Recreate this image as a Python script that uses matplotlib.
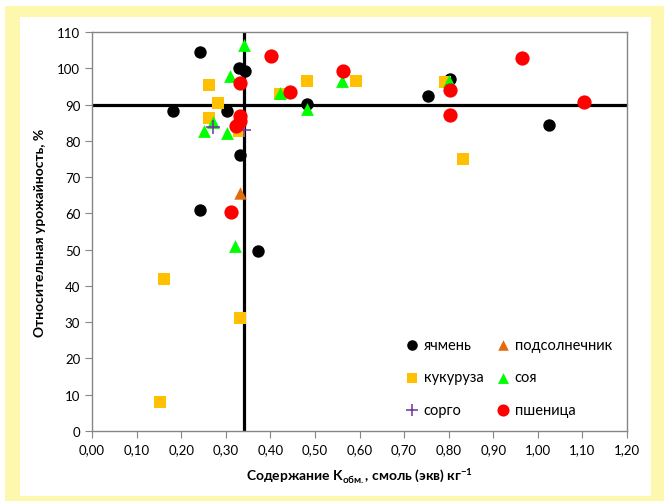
import matplotlib
matplotlib.use('agg')
import matplotlib.pyplot as plt
from matplotlib.patches import Rectangle

plt.rcParams['font.family'] = ['Lato', 'DejaVu Sans']
plt.rcParams['mathtext.fontset'] = 'custom'
plt.rcParams['mathtext.rm'] = 'Lato'
plt.rcParams['mathtext.bf'] = 'Lato:bold'

# data
barley_x = [0.243, 0.330, 0.344, 0.181, 0.303, 0.331, 0.243, 0.372, 0.482, 0.754, 0.802, 1.024]
barley_y = [104.4, 100.1, 99.2, 88.3, 88.3, 76.2, 60.9, 49.5, 90.2, 92.3, 97.0, 84.3]

sunflower_x = [0.331]
sunflower_y = [65.5]

corn_x = [0.263, 0.282, 0.263, 0.330, 0.422, 0.482, 0.593, 0.792, 0.833, 0.162, 0.332, 0.152]
corn_y = [95.5, 90.4, 86.2, 82.8, 92.9, 96.6, 96.4, 96.1, 75.0, 41.9, 31.1, 7.9]

soy_x = [0.342, 0.310, 0.271, 0.252, 0.303, 0.422, 0.561, 0.482, 0.801, 0.321]
soy_y = [106.5, 98.0, 85.1, 82.8, 82.1, 93.1, 96.6, 88.8, 96.6, 51.1]

sorghum_x = [0.271, 0.342]
sorghum_y = [83.7, 83.0]

wheat_x = [0.402, 0.333, 0.333, 0.331, 0.323, 0.312, 0.443, 0.563, 0.964, 0.802, 0.802, 1.104]
wheat_y = [103.5, 95.9, 86.8, 85.6, 84.2, 60.3, 93.4, 99.3, 102.8, 94.0, 87.1, 90.6]

# threshold lines
x_crit = 0.34
y_crit = 90

x_ticks = [0.0, 0.1, 0.2, 0.3, 0.4, 0.5, 0.6, 0.7, 0.8, 0.9, 1.0, 1.1, 1.2]
x_tick_labels = ['0,00', '0,10', '0,20', '0,30', '0,40', '0,50', '0,60',
                 '0,70', '0,80', '0,90', '1,00', '1,10', '1,20']
y_ticks = [0, 10, 20, 30, 40, 50, 60, 70, 80, 90, 100, 110]

W, H = 664, 502
fig = plt.figure(figsize=(W / 100, H / 100), dpi=100)
fig.patch.set_facecolor('white')

# yellow frame and white panel
fig.patches.append(Rectangle((5 / W, 0), 1 - 5 / W, 1 - 7 / H, transform=fig.transFigure,
                             facecolor='#FEF8AE', edgecolor='none', zorder=-2))
fig.patches.append(Rectangle((20 / W, 5 / H), (651 - 20) / W, (497 - 18) / H,
                             transform=fig.transFigure,
                             facecolor='white', edgecolor='none', zorder=-1))

ax = fig.add_axes([92 / W, 1 - 432 / H, (627 - 92) / W, (432 - 33) / H])
ax.set_facecolor('white')

ax.axhline(y_crit, color='black', lw=2.3, zorder=1)
ax.axvline(x_crit, color='black', lw=2.3, zorder=1)

ax.scatter(barley_x, barley_y, marker='o', s=80, color='black', lw=0, label='ячмень', zorder=3)
ax.scatter(sunflower_x, sunflower_y, marker='^', s=80, color='#E36C0A', lw=0, label='подсолнечник', zorder=3)
ax.scatter(corn_x, corn_y, marker='s', s=80, color='#FFC000', lw=0, label='кукуруза', zorder=3)
ax.scatter(soy_x, soy_y, marker='^', s=85, color='#00FF00', lw=0, label='соя', zorder=3)
ax.scatter(sorghum_x, sorghum_y, marker='+', s=110, color='#7030A0', lw=1.1, label='сорго', zorder=3)
ax.scatter(wheat_x, wheat_y, marker='o', s=105, color='#FF0000', lw=0, label='пшеница', zorder=3)

ax.set_xlim(0, 1.2)
ax.set_ylim(0, 110)
ax.set_xticks(x_ticks)
ax.set_xticklabels(x_tick_labels)
ax.set_yticks(y_ticks)

for s in ax.spines.values():
    s.set_color('#868686')
    s.set_linewidth(1)
ax.tick_params(direction='out', length=5, color='#868686', labelsize=9.5, labelcolor='black')

ax.set_xlabel(r'Содержание K$_{\mathbf{обм.}}$, смоль (экв) кг$^{\mathbf{-1}}$',
              fontsize=10, fontweight='bold', labelpad=8)
ax.set_ylabel('Относительная урожайность, %', fontsize=10, fontweight='bold', labelpad=8)

h, l = ax.get_legend_handles_labels()
order = [0, 2, 4, 1, 3, 5]
leg = ax.legend([h[i] for i in order], [l[i] for i in order], ncol=2, frameon=False,
                loc='upper left', bbox_to_anchor=(388 / W, 1 - 326 / H),
                bbox_transform=fig.transFigure, fontsize=10.5, labelspacing=1.25,
                handletextpad=0.05, columnspacing=0.6, handlelength=1.5,
                markerscale=0.85)

fig.savefig('out.png', dpi=100)
